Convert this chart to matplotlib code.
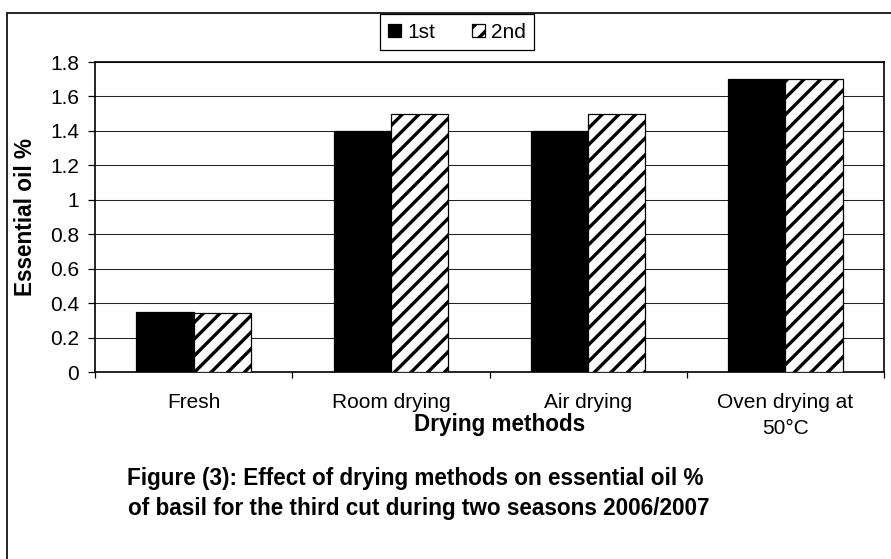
import matplotlib
matplotlib.use("Agg")
import matplotlib.pyplot as plt
from matplotlib.patches import Rectangle
import numpy as np

methods = ["Fresh", "Room drying", "Air drying", "Oven drying at\n50\u00b0C"]
first = [0.35, 1.40, 1.40, 1.70]
second = [0.34, 1.50, 1.50, 1.70]
yticks = [0, 0.2, 0.4, 0.6, 0.8, 1, 1.2, 1.4, 1.6, 1.8]
ytick_labels = ["0", "0.2", "0.4", "0.6", "0.8", "1", "1.2", "1.4", "1.6", "1.8"]

plt.rcParams["font.family"] = ["Liberation Sans", "DejaVu Sans"]
plt.rcParams["hatch.linewidth"] = 1.6
fs = 10      # tick / legend text
fsb = 10.8   # bold titles

W, H, DPI = 891, 559, 150
fig = plt.figure(figsize=(W / DPI, H / DPI), dpi=DPI)

# outer chart border (cropped on the right and bottom like the source)
fig.patches.append(Rectangle((7 / W, -0.1), 1.2, 1 - 13 / H + 0.1,
                             transform=fig.transFigure, fill=False,
                             edgecolor="black", linewidth=0.8))

ax = fig.add_axes([95 / W, 1 - 372 / H, (884 - 95) / W, (372 - 62) / H])

x = np.arange(len(methods))
bw = 0.29
ax.bar(x - bw / 2, first, bw, color="black", edgecolor="black",
       linewidth=0.6, label="1st", zorder=3)
ax.bar(x + bw / 2, second, bw, color="white", edgecolor="black",
       linewidth=0.6, hatch="///", label="2nd", zorder=3)

ax.set_xlim(-0.5, len(methods) - 0.5)
ax.set_ylim(0, 1.8)
ax.set_yticks(yticks)
ax.set_yticklabels(ytick_labels, fontsize=fs)
ax.tick_params(axis="y", length=3.4, width=0.6, pad=4.3)
ax.yaxis.grid(True, color="#222222", linewidth=0.5, zorder=0)

# category boundaries get the tick marks, labels sit at centres
ax.set_xticks(np.arange(len(methods) + 1) - 0.5)
ax.set_xticklabels([])
ax.tick_params(axis="x", which="major", length=3, width=0.6)
ax.set_xticks(x, minor=True)
ax.set_xticklabels(methods, minor=True, fontsize=fs)
ax.tick_params(axis="x", which="minor", length=0, pad=10)
for lbl in ax.get_xticklabels(minor=True):
    lbl.set_linespacing(1.5)

for s in ax.spines.values():
    s.set_linewidth(0.8)
    s.set_color("black")

fig.text(25 / W, 1 - 217 / H, "Essential oil %", fontsize=fsb,
         fontweight="bold", rotation=90, ha="center", va="center")

fig.text(500 / W, 1 - 424 / H, "Drying methods", fontsize=fsb,
         fontweight="bold", ha="center", va="center")

fig.text(415 / W, 1 - 478 / H,
         "Figure (3): Effect of drying methods on essential oil %",
         fontsize=fsb, fontweight="bold", ha="center", va="center")
fig.text(419 / W, 1 - 509 / H,
         "of basil for the third cut during two seasons 2006/2007",
         fontsize=fsb, fontweight="bold", ha="center", va="center")

leg = fig.legend(loc="center", bbox_to_anchor=(457 / W, 1 - 32 / H),
                 ncol=2, fontsize=fs, frameon=True, fancybox=False,
                 edgecolor="black", framealpha=1, handlelength=0.6,
                 handleheight=0.6, handletextpad=0.3, columnspacing=1.8,
                 borderpad=0.4, borderaxespad=0)
leg.get_frame().set_linewidth(0.6)

fig.savefig("out.png", dpi=DPI)
